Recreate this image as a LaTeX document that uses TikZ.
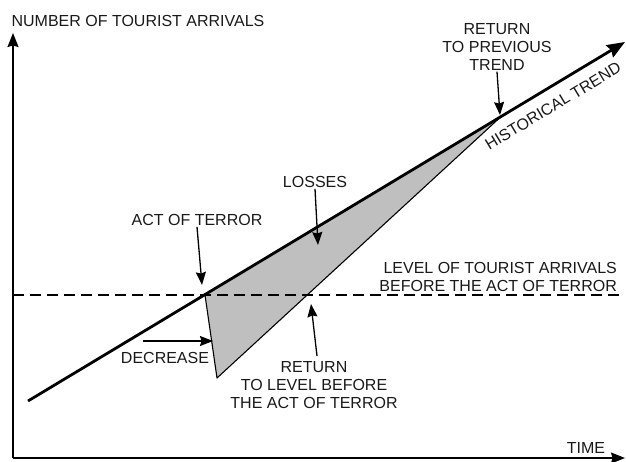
\documentclass[tikz,border=0pt]{standalone}
\usepackage{fontspec}
\setmainfont{Liberation Sans}
\usetikzlibrary{arrows.meta,calc}
\begin{document}
\begin{tikzpicture}[x=1pt,y=-1pt,
  lbl/.style={font=\fontsize{16}{18}\selectfont, inner sep=1pt, text=black!90},
  axis/.style={line width=1.6pt, -{Stealth[length=14pt,width=11pt,inset=1.5pt]}},
  trend/.style={line width=2.8pt, -{Stealth[length=18pt,width=14pt,inset=2pt]}},
  ann/.style={line width=1.3pt, -{Stealth[length=13pt,width=10pt,inset=1.5pt]}},
  lvl/.style={line width=1.3pt, dash pattern=on 11pt off 6pt},
  ]
\useasboundingbox (0,0) rectangle (626,461);
% key points
\coordinate (O) at (13,458);
\coordinate (Y) at (13,33);
\coordinate (X) at (625,458);
\coordinate (T0) at (28,401);
\coordinate (T1) at (625,42);
\coordinate (A) at (205,295);
\coordinate (B) at (217,378);
\coordinate (R) at (500,117.5);
\coordinate (D0) at (13,295);
\coordinate (D1) at (621,295);
% losses area
\fill[black!25] (A) -- (B) -- (R) -- cycle;
\draw[line width=1.1pt, line join=round] (A) -- (B) -- (R);
% level before act
\draw[lvl] (D0) -- (D1);
% axes
\draw[axis] (O) -- (Y);
\draw[axis] (O) -- (X);
% historical trend
\draw[trend] (T0) -- (T1);
% labels
\node[lbl] (ylab) at (138,21) {NUMBER OF TOURIST ARRIVALS};
\node[lbl] (time) at (586,448) {TIME};
\node[lbl, align=center] (ret) at (497,47) {RETURN\\TO PREVIOUS\\TREND};
\node[lbl, rotate=31] (hist) at (553,106) {HISTORICAL TREND};
\node[lbl] (loss) at (315,182) {LOSSES};
\node[lbl] (act) at (197,220) {ACT OF TERROR};
\node[lbl, align=right, anchor=east] (lev) at (618,277) {LEVEL OF TOURIST ARRIVALS\\BEFORE THE ACT OF TERROR};
\node[lbl] (dec) at (165,358) {DECREASE};
\node[lbl, align=center] (rlev) at (314,385) {RETURN\\TO LEVEL BEFORE\\THE ACT OF TERROR};
% annotation arrows
\coordinate (actp) at (202,285);
\coordinate (lossp) at (318,245);
\coordinate (retp) at (500,115);
\coordinate (dec0) at (143,341);
\coordinate (decp) at (213,341);
\coordinate (rlev0) at (317,356);
\coordinate (rlevp) at (311,304);
\draw[ann] (act.south) -- (actp);
\draw[ann] (loss.south) -- (lossp);
\draw[ann] (ret.south) -- (retp);
\draw[ann] (dec0) -- (decp);
\draw[ann] (rlev0) -- (rlevp);
\end{tikzpicture}
\end{document}
